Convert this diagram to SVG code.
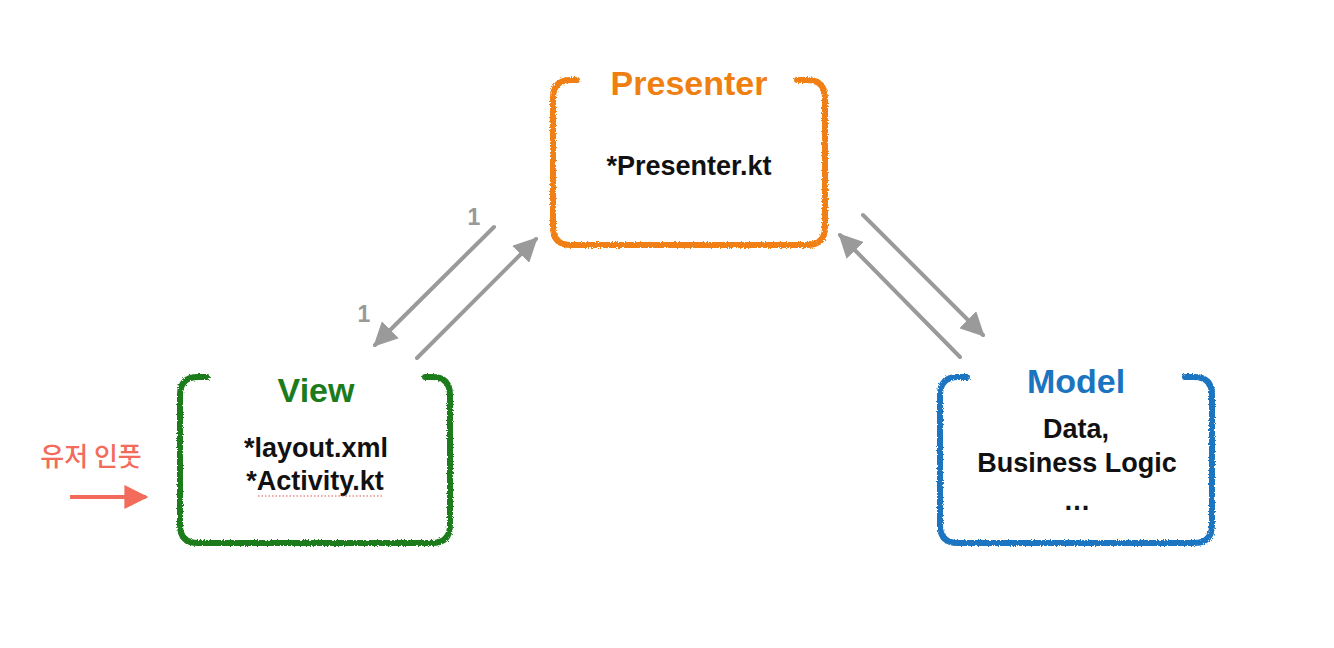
<svg xmlns="http://www.w3.org/2000/svg" width="1334" height="648" viewBox="0 0 1334 648">
<style>
.box{fill:none;stroke-width:6;stroke-linecap:round;stroke-linejoin:round;filter:url(#rough)}
.title{font-family:"Liberation Sans",Arial,sans-serif;font-weight:bold;font-size:34px;text-anchor:middle}
.body{font-family:"Liberation Sans",Arial,sans-serif;font-weight:bold;font-size:27px;text-anchor:middle;fill:#111}
.conn{stroke:#9a9a9a;stroke-width:4;fill:none;stroke-linecap:round}
.num{font-family:"Liberation Sans",Arial,sans-serif;font-weight:bold;font-size:23px;fill:#999;text-anchor:middle}
</style>
<defs>
<filter id="rough" x="-5%" y="-5%" width="110%" height="110%">
<feTurbulence type="fractalNoise" baseFrequency="0.7" numOctaves="2" seed="3"/>
<feDisplacementMap in="SourceGraphic" scale="3.5"/>
</filter>
<marker id="ah" viewBox="0 0 10 10" refX="9" refY="5" markerWidth="6" markerHeight="6" orient="auto" markerUnits="strokeWidth">
<path d="M0,0 L10,5 L0,10 Z" fill="#9a9a9a"/>
</marker>
<marker id="ahr" viewBox="0 0 10 10" refX="9" refY="5" markerWidth="6" markerHeight="6" orient="auto" markerUnits="strokeWidth">
<path d="M0,0 L10,5 L0,10 Z" fill="#f26b5b"/>
</marker>
</defs>
<rect width="1334" height="648" fill="#fff"/>

<g id="presenter">
<path class="box" stroke="#f07f12" d="M577,80 L571,80 Q553,80 553,98 L553,227 Q553,245 571,245 L807,245 Q825,245 825,227 L825,98 Q825,80 807,80 L797,80"/>
<text class="title" x="689" y="95" fill="#f07f12">Presenter</text>
<text class="body" x="689" y="175">*Presenter.kt</text>
</g>

<g id="view">
<path class="box" stroke="#1c7c1c" d="M207,377 L198,377 Q180,377 180,395 L180,525 Q180,543 198,543 L432,543 Q450,543 450,525 L450,395 Q450,377 432,377 L425,377"/>
<text class="title" x="316" y="402" fill="#1c7c1c">View</text>
<text class="body" x="316" y="457">*layout.xml</text>
<text class="body" x="315" y="490">*Activity.kt</text>
<line x1="258" y1="496" x2="383" y2="496" stroke="#e05050" stroke-width="1.2" stroke-dasharray="1.5,2"/>
</g>

<g id="model">
<path class="box" stroke="#1a74c0" d="M967,377 L958,377 Q940,377 940,395 L940,525 Q940,543 958,543 L1194,543 Q1212,543 1212,525 L1212,395 Q1212,377 1194,377 L1185,377"/>
<text class="title" x="1076" y="393" fill="#1a74c0">Model</text>
<text class="body" x="1076" y="438">Data,</text>
<text class="body" x="1077" y="472">Business Logic</text>
<text class="body" x="1077" y="510">…</text>
</g>

<g id="user-input">
<text x="91" y="466" font-family="'Noto Sans CJK KR','Liberation Sans',sans-serif" font-size="26" font-weight="500" fill="#f26b5b" text-anchor="middle">유저 인풋</text>
<line x1="70" y1="497" x2="146" y2="497" stroke="#f26b5b" stroke-width="4" marker-end="url(#ahr)"/>
</g>

<g id="connectors">
<line class="conn" x1="494" y1="227" x2="375" y2="345" marker-end="url(#ah)"/>
<line class="conn" x1="417" y1="358" x2="536" y2="239" marker-end="url(#ah)"/>
<line class="conn" x1="863" y1="215" x2="983" y2="335" marker-end="url(#ah)"/>
<line class="conn" x1="960" y1="357" x2="840" y2="235" marker-end="url(#ah)"/>
<text class="num" x="474" y="225">1</text>
<text class="num" x="364" y="322">1</text>
</g>
</svg>
